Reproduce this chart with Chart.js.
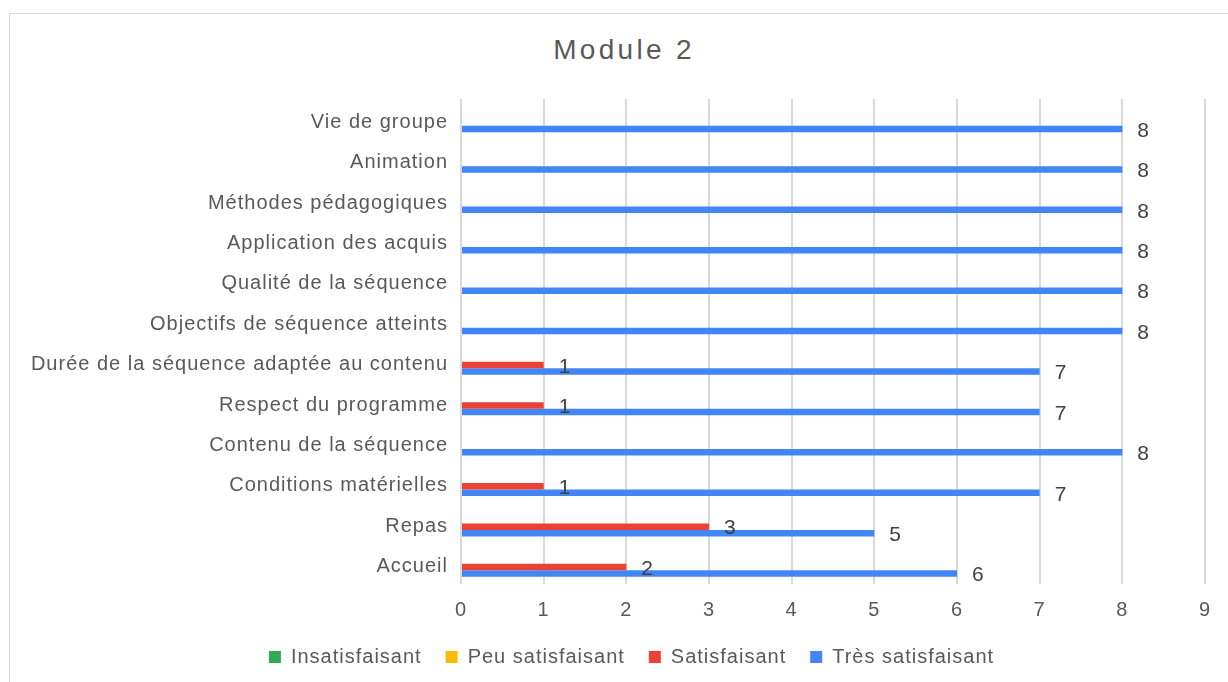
<!DOCTYPE html>
<html>
<head>
<meta charset="utf-8">
<script src="https://cdn.jsdelivr.net/npm/chart.js@4/dist/chart.umd.min.js"></script>
<style>
  html, body { margin: 0; padding: 0; background: #fff; }
  #wrap { position: relative; width: 1228px; height: 682px; overflow: hidden; }
  #frame { position: absolute; left: 9px; top: 13px; width: 1240px; height: 700px;
           border-left: 1.5px solid #d9d9d9; border-top: 1.5px solid #d9d9d9; box-sizing: border-box; }
  #title { position: absolute; left: 0; width: 1248px; top: 33px; text-align: center;
           font-family: 'Liberation Sans', Arial, sans-serif; font-size: 28px; letter-spacing: 3.3px;
           color: #595959; line-height: 34px; }
  canvas { position: absolute; left: 0; top: 0; }
</style>
</head>
<body>
<div id="wrap">
  <div id="frame"></div>
  <div id="title">Module 2</div>
  <canvas id="c" width="1228" height="682"></canvas>
</div>
<script>
const categories = [
  'Vie de groupe',
  'Animation',
  'Méthodes pédagogiques',
  'Application des acquis',
  'Qualité de la séquence',
  'Objectifs de séquence atteints',
  'Durée de la séquence adaptée au contenu',
  'Respect du programme',
  'Contenu de la séquence',
  'Conditions matérielles',
  'Repas',
  'Accueil'
];
const insatisfaisant   = [0, 0, 0, 0, 0, 0, 0, 0, 0, 0, 0, 0];
const peuSatisfaisant  = [0, 0, 0, 0, 0, 0, 0, 0, 0, 0, 0, 0];
const satisfaisant     = [0, 0, 0, 0, 0, 0, 1, 1, 0, 1, 3, 2];
const tresSatisfaisant = [8, 8, 8, 8, 8, 8, 7, 7, 8, 7, 5, 6];
const xTicks = [0, 1, 2, 3, 4, 5, 6, 7, 8, 9];

const FONT = "'Liberation Sans', Arial, sans-serif";
const TEXT = '#595959';

const spacingPlugin = {
  id: 'spacing',
  beforeUpdate(chart) { chart.ctx.letterSpacing = '1px'; },
  beforeLayout(chart) { chart.ctx.letterSpacing = '1px'; },
  afterLayout(chart) {
    // let the category labels extend left of the layout padding without clipping
    chart.scales.y.left = 0;
    const lg = chart.legend;
    if (lg) { const h = lg.height; lg.top = 657 - 24 - 10; lg.bottom = lg.top + h; }
  },
  beforeDraw(chart) { chart.ctx.letterSpacing = '1px'; }
};

const valueLabels = {
  id: 'valueLabels',
  afterDatasetsDraw(chart) {
    const ctx = chart.ctx;
    ctx.save();
    ctx.letterSpacing = '1px';
    ctx.font = '21px ' + FONT;
    ctx.fillStyle = '#404040';
    ctx.textAlign = 'left';
    ctx.textBaseline = 'middle';
    chart.data.datasets.forEach((ds, di) => {
      const meta = chart.getDatasetMeta(di);
      meta.data.forEach((el, i) => {
        const v = ds.data[i];
        if (v) ctx.fillText(String(v), el.x + 15, el.y + 2);
      });
    });
    ctx.restore();
  }
};

new Chart(document.getElementById('c'), {
  type: 'bar',
  data: {
    labels: categories,
    datasets: [
      { label: 'Insatisfaisant', data: insatisfaisant, backgroundColor: '#34A853' },
      { label: 'Peu satisfaisant', data: peuSatisfaisant, backgroundColor: '#FBBC04' },
      { label: 'Satisfaisant', data: satisfaisant, backgroundColor: '#EA4335' },
      { label: 'Très satisfaisant', data: tresSatisfaisant, backgroundColor: '#4285F4' }
    ]
  },
  options: {
    indexAxis: 'y',
    responsive: false,
    animation: false,
    devicePixelRatio: 1,
    categoryPercentage: 0.645,
    barPercentage: 1,
    layout: { padding: { top: 99, left: 58, right: 23, bottom: 10 } },
    scales: {
      x: {
        min: 0, max: 9,
        afterBuildTicks(scale) { scale.ticks = xTicks.map(v => ({ value: v })); },
        grid: { color: '#d9d9d9', lineWidth: 2, drawTicks: false },
        border: { display: false },
        ticks: { color: TEXT, font: { family: FONT, size: 20 }, padding: 14 },
        afterFit(scale) { scale.height = 40; }
      },
      y: {
        grid: { display: false, drawTicks: false },
        border: { display: false },
        ticks: { color: TEXT, font: { family: FONT, size: 20 }, padding: 13, autoSkip: false, labelOffset: 3 },
        afterFit(scale) { scale.width = 461 - 58; }
      }
    },
    plugins: {
      legend: {
        position: 'bottom',
        maxHeight: 48,
        labels: { color: TEXT, font: { family: FONT, size: 20 }, boxWidth: 12, boxHeight: 12, padding: 24 }
      },
      tooltip: { enabled: false },
      title: { display: false }
    }
  },
  plugins: [spacingPlugin, valueLabels]
});
</script>
</body>
</html>
